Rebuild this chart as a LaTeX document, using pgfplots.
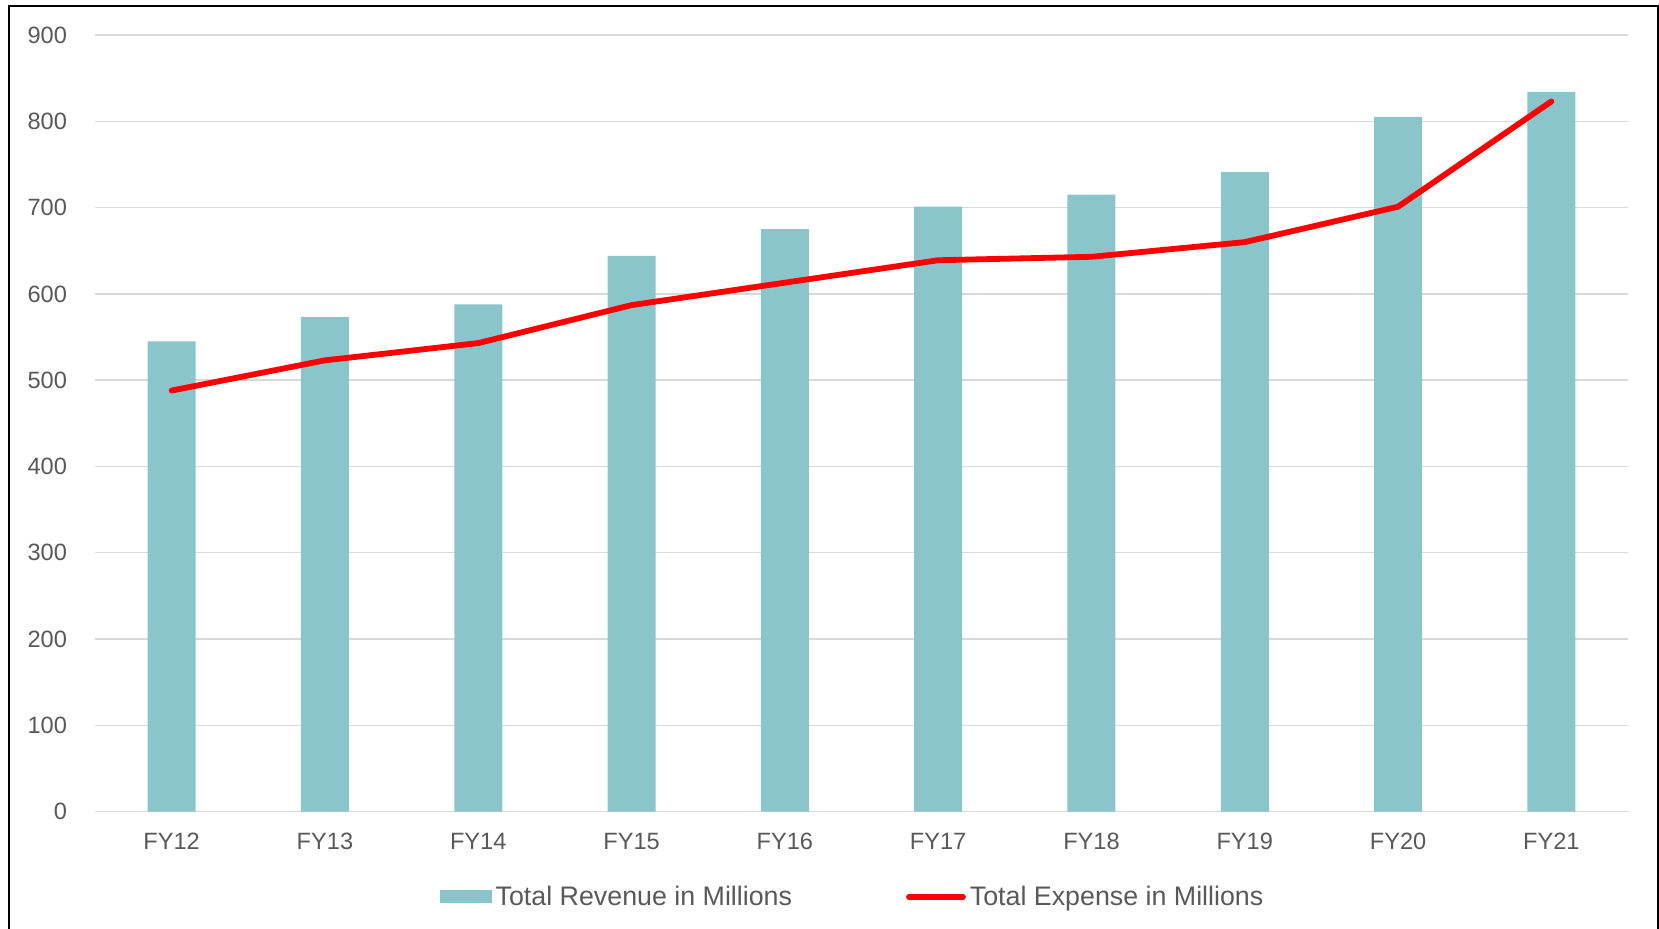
\documentclass[border=0pt]{standalone}
\usepackage{fontspec}
\setmainfont{Liberation Sans}
\usepackage{pgfplots}
\pgfplotsset{compat=1.18}
\definecolor{barc}{HTML}{8AC5CC}
\definecolor{txt}{HTML}{595959}
\definecolor{gridc}{HTML}{D9D9D9}
\begin{document}
\begin{tikzpicture}
\useasboundingbox (-47.5pt,-58.65pt) rectangle (782pt,405.85pt);
\draw[line width=1pt, black] (-42.75pt,-70pt) -- (-42.75pt,402.85pt) -- (781.25pt,402.85pt) -- (781.25pt,-70pt);
\begin{axis}[
  at={(0,0)}, anchor=south west,
  scale only axis, width=766.5pt, height=388.35pt,
  xmin=-0.5, xmax=9.5, ymin=0, ymax=900,
  xtick={0,...,9},
  xticklabels={FY12,FY13,FY14,FY15,FY16,FY17,FY18,FY19,FY20,FY21},
  ytick={0,100,...,900},
  axis line style={draw=none},
  major tick length=0pt,
  ymajorgrids=true,
  grid style={gridc, line width=0.7pt},
  /pgf/number format/assume math mode=true,
  tick label style={text=txt, font=\fontsize{11.8}{13}\selectfont},
  xticklabel style={text height=9pt, text depth=0pt, yshift=-6.5pt},
  yticklabel style={xshift=-10.5pt},
  legend style={at={(0.5,0)}, anchor=center, xshift=-4pt, yshift=-42.65pt,
    draw=none, fill=none, inner sep=0pt,
    font=\fontsize{13.4}{15}\selectfont, text=txt,
    /tikz/every even column/.append style={column sep=55pt}},
  legend columns=2,
]
\addplot[ybar, bar width=24pt, fill=barc, draw=none,
  legend image code/.code={\fill[barc] (0pt,-3.25pt) rectangle (26pt,3.25pt);}]
  coordinates {(0,545) (1,573) (2,588) (3,644) (4,675) (5,701) (6,715) (7,741) (8,805) (9,834)};
\addlegendentry{Total Revenue in Millions}
\addplot[red, line width=2.9pt, line join=round, line cap=round, mark=none,
  legend image code/.code={\draw[red, line width=2.9pt, line cap=round] (0pt,0pt) -- (27pt,0pt);}]
  coordinates {(0,488) (1,523) (2,543) (3,587) (4,613) (5,639) (6,643) (7,660) (8,701) (9,823)};
\addlegendentry{Total Expense in Millions}
\end{axis}
\end{tikzpicture}
\end{document}
